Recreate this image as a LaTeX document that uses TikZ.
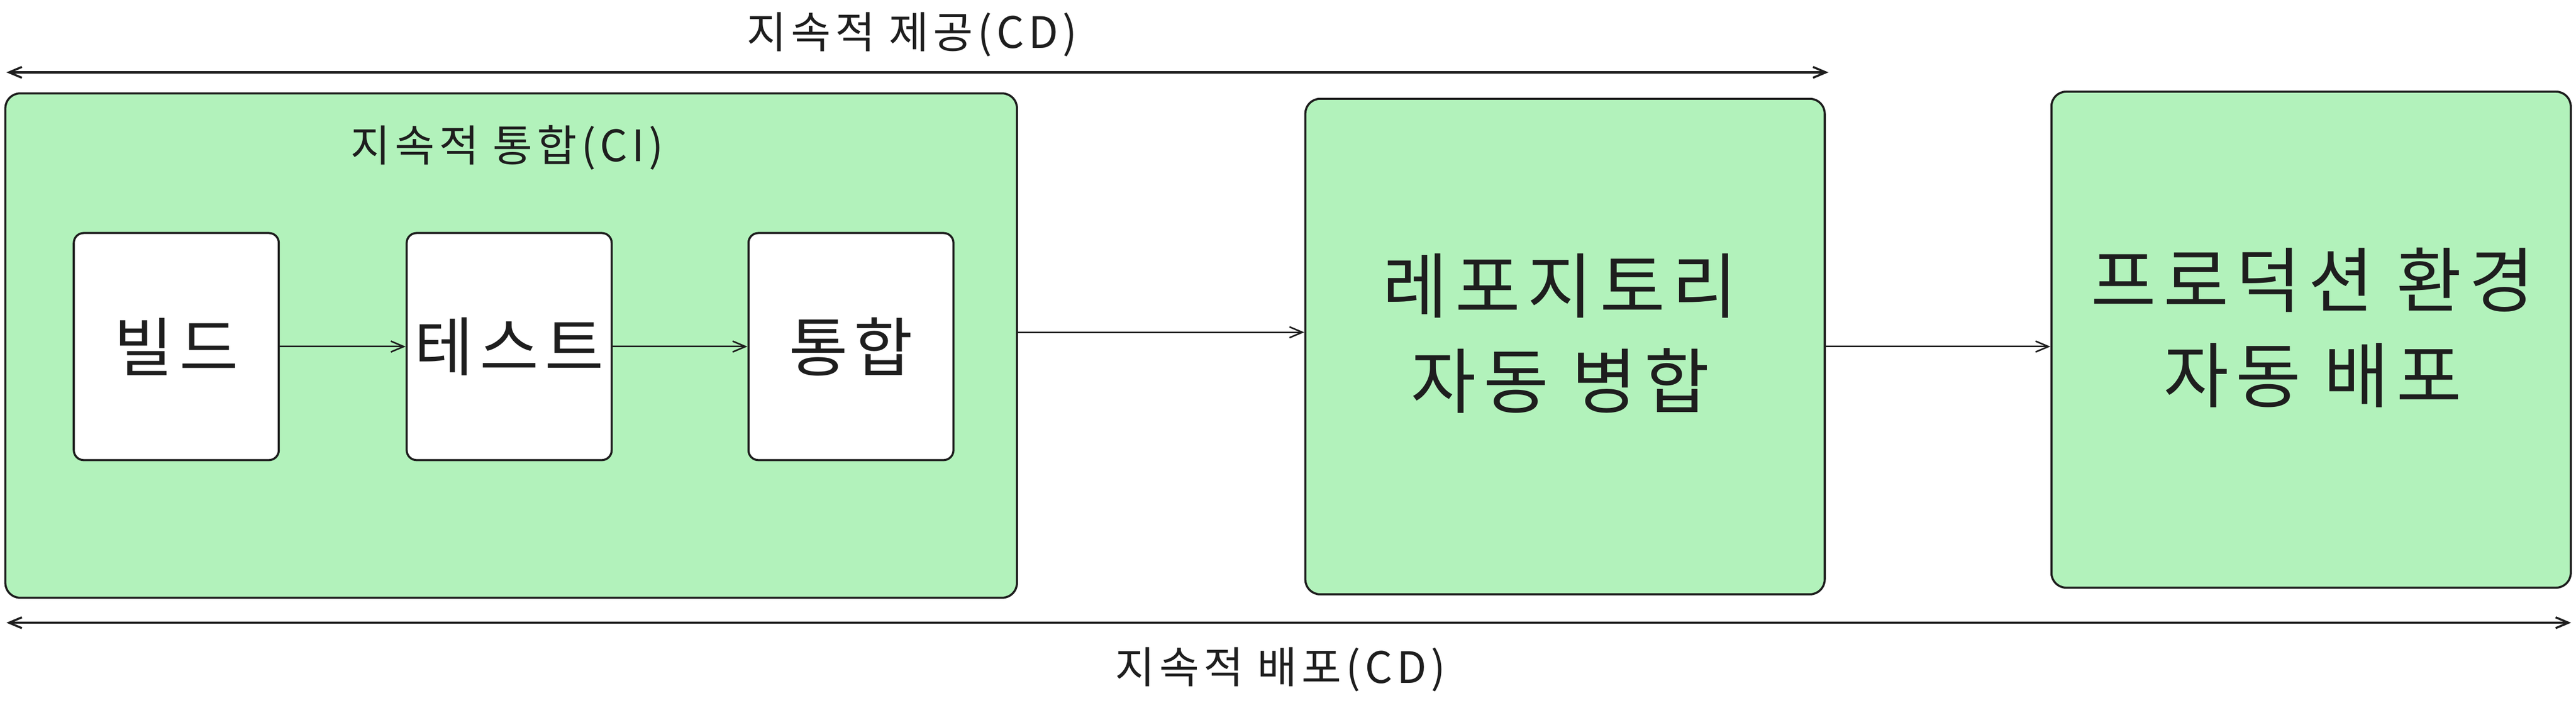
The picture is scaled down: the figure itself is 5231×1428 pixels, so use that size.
\documentclass[tikz,border=0pt]{standalone}
\usepackage{fontspec}
\setmainfont{Noto Sans CJK KR}[LetterSpace=10]
\usetikzlibrary{positioning,calc,arrows.meta}
\definecolor{boxgreen}{HTML}{B2F2BB}
\definecolor{ink}{HTML}{1E1E1E}
\tikzset{font=\fontsize{25}{30}\selectfont}

\begin{document}
\begin{tikzpicture}[x=0.01cm, y=-0.01cm]
	\useasboundingbox (0,0) rectangle (5231,1428);
	\tikzstyle{every node}=[align=center, inner sep=1pt, text=ink]
	\tikzstyle{group}=[draw=ink, fill=boxgreen, line width=1.2pt, rounded corners=3mm]
	\tikzstyle{stage}=[draw=ink, fill=white, line width=1.2pt, rounded corners=2mm, minimum width=4.16cm, minimum height=4.61cm, font=\fontsize{37}{44}\selectfont]
	\tikzstyle{big}=[group, minimum width=10.54cm, minimum height=10.06cm]
	\tikzstyle{bigtext}=[font=\fontsize{41}{55}\selectfont]
	\tikzstyle{flow}=[->, >={Straight Barb[length=2.6mm,width=2.2mm]}, draw=ink, line width=0.9pt]

	% continuous integration
	\node[group, minimum width=20.53cm, minimum height=10.24cm] (ci) at (1038, 702) {};
	\node (citxt) at (1030, 300) {지속적 통합(CI)};
	\node[stage] (build) at (358, 704) {빌드};
	\node[stage] (test) at (1034, 704) {테스트};
	\node[stage] (merge) at (1728, 704) {통합};

	\node[big] (repo) at (3178, 704) {};
	\node[bigtext] (repotxt) at (3168, 677) {레포지토리\\자동 병합};
	\node[big, minimum height=10.07cm] (prod) at (4693, 690) {};
	\node[bigtext] (prodtxt) at (4696, 666) {프로덕션 환경\\자동 배포};

	% spans
	\node (cdtop) at (1852, 70) {지속적 제공(CD)};
	\node (cdbot) at (2600, 1360) {지속적 배포(CD)};
	\coordinate (topl) at (13, 147);
	\coordinate (topr) at (3713, 147);
	\coordinate (botl) at (13, 1265);
	\coordinate (botr) at (5221, 1265);

	\draw [flow] (build) to (test);
	\draw [flow] (test) to (merge);
	\draw [flow] ([yshift=2.7mm]ci.east) to ([yshift=2.7mm]ci.east -| repo.west);
	\draw [flow] (repo.east) to (repo.east -| prod.west);

	\draw [flow, <->, line width=1.2pt] (topl) to (topr);
	\draw [flow, <->, line width=1.2pt] (botl) to (botr);
\end{tikzpicture}
\end{document}
